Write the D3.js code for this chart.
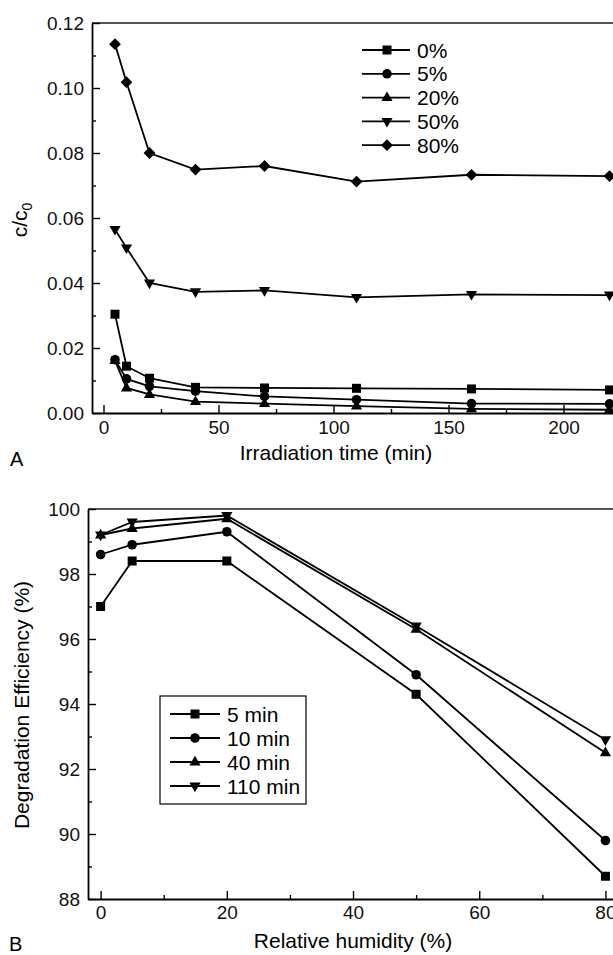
<!DOCTYPE html>
<html>
<head>
	<meta charset="utf-8" />
	<script src="https://d3js.org/d3.v7.min.js"></script>
	<style>
		body { margin: 0; background: #fff; }
		svg { display: block; font-family: "Liberation Sans", Arial, sans-serif; }
		.tick text { font-size: 19px; fill: #111; font-family: "Liberation Sans", Arial, sans-serif; }
	</style>
</head>
<body>
	<div id="chart"></div>
	<script>

		// Panel A : c/c0 versus irradiation time, one series per humidity
		var timeA = [5, 10, 20, 40, 70, 110, 160, 220];
		var rh0 = [0.0304, 0.0144, 0.0107, 0.0079, 0.0077, 0.0076, 0.0074, 0.0071];
		var rh5 = [0.0164, 0.0105, 0.0082, 0.0067, 0.0051, 0.0041, 0.0029, 0.0028];
		var rh20 = [0.0161, 0.0077, 0.0057, 0.0035, 0.0029, 0.0021, 0.0013, 0.0010];
		var rh50 = [0.0565, 0.0508, 0.0400, 0.0373, 0.0377, 0.0356, 0.0365, 0.0363];
		var rh80 = [0.1135, 0.1018, 0.0800, 0.0749, 0.0760, 0.0712, 0.0733, 0.0729];
		var labelsA = ["0%", "5%", "20%", "50%", "80%"];

		// Panel B : degradation efficiency versus relative humidity, one series per time
		var humidityB = [0, 5, 20, 50, 80];
		var de5 = [97.0, 98.4, 98.4, 94.3, 88.7];
		var de10 = [98.6, 98.9, 99.3, 94.9, 89.8];
		var de40 = [99.2, 99.4, 99.7, 96.3, 92.5];
		var de110 = [99.2, 99.6, 99.8, 96.4, 92.9];
		var labelsB = ["5 min", "10 min", "40 min", "110 min"];

		var width = 613, height = 955;

		var svg = d3.select("#chart")
			.append("svg")
			.attr("width", width)
			.attr("height", height);

		// marker shapes, drawn around (0,0)
		var shapes = {
			square: "M-4.5,-4.5h9v9h-9Z",
			circle: d3.symbol(d3.symbolCircle, 72)(),
			up: "M0,-6.2L5.6,3.4L-5.6,3.4Z",
			down: "M0,6.2L5.6,-3.4L-5.6,-3.4Z",
			diamond: "M0,-5.9L5.9,0L0,5.9L-5.9,0Z"
		};

		function drawAxes(g, x, y, xMajor, xMinor, yMajor, yMinor, yFormat, xPad) {
			var x0 = x.range()[0], y0 = y.range()[0], yTop = y.range()[1];

			// gray frame line on top
			g.append("line")
				.attr("x1", x0).attr("x2", width)
				.attr("y1", yTop).attr("y2", yTop)
				.attr("stroke", "#555").attr("stroke-width", 2);

			// minor ticks first, then major ticks with labels
			g.append("g")
				.attr("transform", "translate(0," + y0 + ")")
				.call(d3.axisBottom(x).tickValues(xMinor).tickSizeInner(-4).tickSizeOuter(0).tickFormat(""))
				.call(function (a) { a.select(".domain").remove(); });
			g.append("g")
				.attr("transform", "translate(" + x0 + ",0)")
				.call(d3.axisLeft(y).tickValues(yMinor).tickSizeInner(-4).tickSizeOuter(0).tickFormat(""))
				.call(function (a) { a.select(".domain").remove(); });

			g.append("g")
				.attr("transform", "translate(0," + y0 + ")")
				.call(d3.axisBottom(x).tickValues(xMajor).tickSizeInner(-8).tickSizeOuter(0).tickPadding(xPad));
			g.append("g")
				.attr("transform", "translate(" + x0 + ",0)")
				.call(d3.axisLeft(y).tickValues(yMajor).tickSizeInner(-8).tickSizeOuter(0).tickPadding(8).tickFormat(yFormat));

			// let the page font apply instead of d3's default
			g.selectAll("g").attr("font-family", null).attr("font-size", null);
			g.selectAll(".domain").attr("stroke", "#000").attr("stroke-width", 1.8);
			g.selectAll(".tick line").attr("stroke", "#000").attr("stroke-width", 1.4);
		}

		function drawSeries(g, x, y, xs, ys, shape) {
			var pts = xs.map(function (v, i) { return [x(v), y(ys[i])]; });
			g.append("path")
				.attr("d", d3.line()(pts))
				.attr("fill", "none")
				.attr("stroke", "#000")
				.attr("stroke-width", 1.8);
			g.selectAll(null)
				.data(pts).enter()
				.append("path")
				.attr("d", shapes[shape])
				.attr("transform", function (p) { return "translate(" + p[0] + "," + p[1] + ")"; })
				.attr("fill", "#000");
		}

		function legendRow(g, x1, x2, xm, yRow, shape, label) {
			g.append("line")
				.attr("x1", x1).attr("x2", x2)
				.attr("y1", yRow).attr("y2", yRow)
				.attr("stroke", "#000").attr("stroke-width", 1.8);
			g.append("path")
				.attr("d", shapes[shape])
				.attr("transform", "translate(" + xm + "," + yRow + ")")
				.attr("fill", "#000");
			g.append("text")
				.attr("x", x2 + 7).attr("y", yRow + 7.5)
				.style("font-size", "21px")
				.text(label);
		}

		// ---------- Panel A ----------
		var gA = svg.append("g");
		var xA = d3.scaleLinear().domain([-5, 222]).range([92, 614.1]);
		var yA = d3.scaleLinear().domain([0, 0.12]).range([413, 23]);

		drawAxes(gA, xA, yA,
			[0, 50, 100, 150, 200], [25, 75, 125, 175],
			[0, 0.02, 0.04, 0.06, 0.08, 0.10, 0.12], [0.01, 0.03, 0.05, 0.07, 0.09, 0.11],
			d3.format(".2f"), 8);

		var seriesA = [rh0, rh5, rh20, rh50, rh80];
		var shapesA = ["square", "circle", "up", "down", "diamond"];
		seriesA.forEach(function (s, i) { drawSeries(gA, xA, yA, timeA, s, shapesA[i]); });

		labelsA.forEach(function (l, i) {
			legendRow(gA, 362, 410, 387, 50 + i * 23.8, shapesA[i], l);
		});

		gA.append("text")
			.attr("transform", "translate(27,220) rotate(-90)")
			.attr("text-anchor", "middle")
			.style("font-size", "21px")
			.text("c/c")
			.append("tspan")
			.attr("dy", 5)
			.style("font-size", "14px")
			.text("0");

		gA.append("text")
			.attr("x", 336).attr("y", 460)
			.attr("text-anchor", "middle")
			.style("font-size", "21px")
			.text("Irradiation time (min)");

		gA.append("text")
			.attr("x", 10).attr("y", 466)
			.style("font-size", "20px")
			.text("A");

		// ---------- Panel B ----------
		var gB = svg.append("g");
		var xB = d3.scaleLinear().domain([-2, 81.5]).range([88, 614.9]);
		var yB = d3.scaleLinear().domain([88, 100]).range([899, 509]);

		drawAxes(gB, xB, yB,
			[0, 20, 40, 60, 80], [10, 30, 50, 70],
			[88, 90, 92, 94, 96, 98, 100], [89, 91, 93, 95, 97, 99],
			d3.format("d"), 7);

		var seriesB = [de5, de10, de40, de110];
		var shapesB = ["square", "circle", "up", "down"];
		seriesB.forEach(function (s, i) { drawSeries(gB, xB, yB, humidityB, s, shapesB[i]); });

		// legend box
		gB.append("rect")
			.attr("x", 160).attr("y", 696)
			.attr("width", 146).attr("height", 108)
			.attr("fill", "#fff")
			.attr("stroke", "#000").attr("stroke-width", 1.2);
		labelsB.forEach(function (l, i) {
			legendRow(gB, 170, 220, 195, 714 + i * 24, shapesB[i], l);
		});

		gB.append("text")
			.attr("transform", "translate(29,705) rotate(-90)")
			.attr("text-anchor", "middle")
			.style("font-size", "21px")
			.text("Degradation Efficiency (%)");

		gB.append("text")
			.attr("x", 353).attr("y", 948)
			.attr("text-anchor", "middle")
			.style("font-size", "21px")
			.text("Relative humidity (%)");

		gB.append("text")
			.attr("x", 9).attr("y", 951)
			.style("font-size", "20px")
			.text("B");

	</script>
</body>
</html>
